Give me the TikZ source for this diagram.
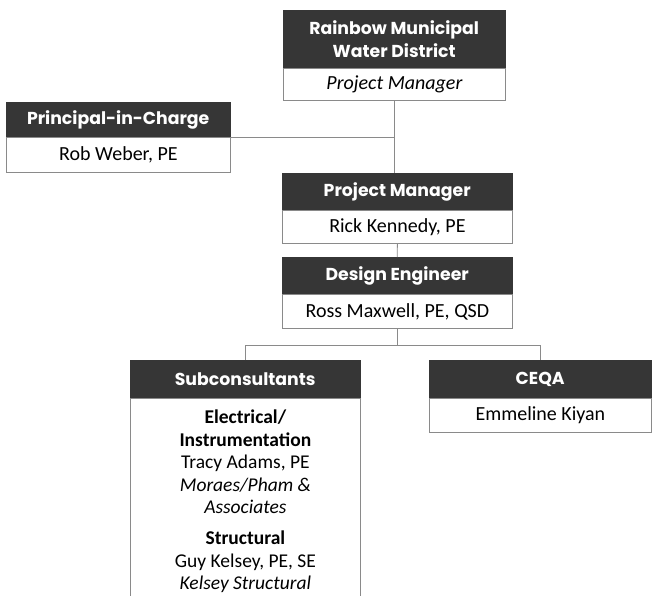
\documentclass[tikz,border=0pt]{standalone}
\usepackage{fontspec}
\usetikzlibrary{calc}
\setmainfont{Carlito}
\newfontfamily\hfont{Poppins}
\definecolor{hdrgray}{HTML}{363636}
\definecolor{linegray}{HTML}{8A8A8A}
\tikzset{
  hdr/.style={fill=hdrgray, draw=hdrgray, text=white, anchor=north west, inner sep=0pt, align=center,
    font=\hfont\bfseries\fontsize{17.3}{23}\selectfont},
  bod/.style={fill=white, draw=linegray, line width=0.8pt, anchor=north west, inner sep=0pt, align=center,
    font=\fontsize{20}{23}\selectfont},
  conn/.style={draw=linegray, line width=0.8pt}
}
\begin{document}
\begin{tikzpicture}[x=1pt,y=-1pt]
\clip (0,0) rectangle (655,595);
\fill[white] (0,0) rectangle (655,595);
% Rainbow
\node[hdr, minimum width=222pt, minimum height=58pt] (rwh) at (283,10) {Rainbow Municipal\\Water District};
\node[bod, minimum width=222pt, minimum height=32pt] (rwb) at (283,68) {\itshape Project Manager};
% Principal
\node[hdr, minimum width=224pt, minimum height=35pt] (pich) at (6,102) {Principal-in-Charge};
\node[bod, minimum width=224pt, minimum height=35pt] (picb) at (6,137) {Rob Weber, PE};
% Project manager
\node[hdr, minimum width=230pt, minimum height=37pt] (pmh) at (282,173) {Project Manager};
\node[bod, minimum width=230pt, minimum height=33pt] (pmb) at (282,210) {Rick Kennedy, PE};
% Design engineer
\node[hdr, minimum width=230pt, minimum height=37pt] (deh) at (282,257) {Design Engineer};
\node[bod, minimum width=230pt, minimum height=34pt] (deb) at (282,294) {Ross Maxwell, PE, QSD};
% Subconsultants
\node[hdr, minimum width=230pt, minimum height=38pt] (subh) at (130,360) {Subconsultants};
\node[bod, minimum width=230pt, minimum height=201pt] (subb) at (130,398) {};
\node[anchor=north, inner sep=0pt, align=center, font=\fontsize{19.5}{22.5}\selectfont] (subt) at (subb.north |- 0,410)
  {\textbf{Electrical/}\\\textbf{Instrumentation}\\Tracy Adams, PE\\\textit{Moraes/Pham \&}\\\textit{Associates}\\[8.5pt]
   \textbf{Structural}\\Guy Kelsey, PE, SE\\\textit{Kelsey Structural}};
% CEQA
\node[hdr, minimum width=222pt, minimum height=38pt] (ceh) at (429,360) {CEQA};
\node[bod, minimum width=222pt, minimum height=34pt] (ceb) at (429,398) {Emmeline Kiyan};
% connectors
\draw[conn] (rwb.south) -- (rwb.south |- pmh.north);
\draw[conn] (pich.south east) -- (pich.south east -| rwb.south);
\draw[conn] (pmb.south) -- (deh.north);
\coordinate (jn) at ($(deb.south)+(0,17)$);
\draw[conn] (deb.south) -- (jn);
\draw[conn] (subh.north) |- (jn) -| (ceh.north);
\end{tikzpicture}
\end{document}
